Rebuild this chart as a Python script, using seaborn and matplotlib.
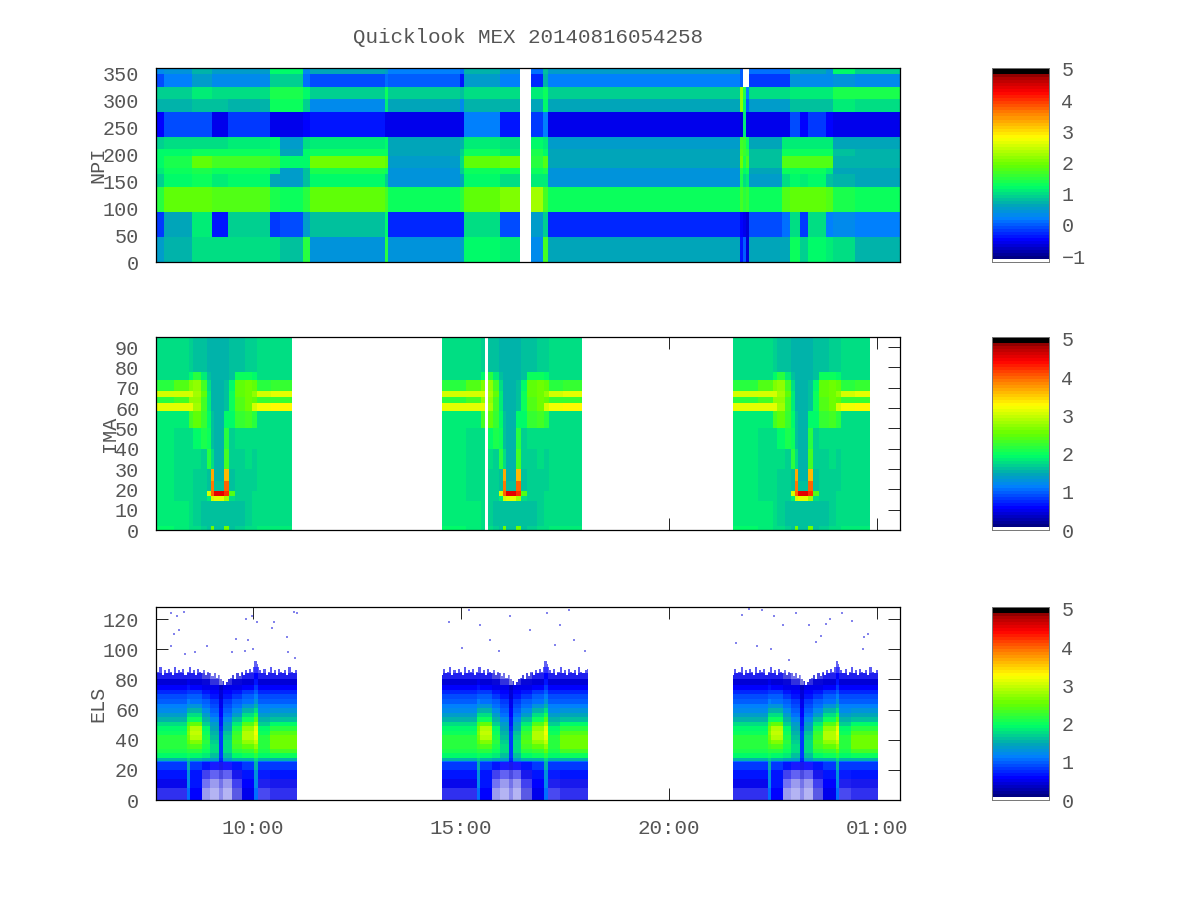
"""
plot.py
Quicklook MEX spectrograms (NPI, IMA, ELS) redrawn with seaborn heatmaps.
"""

import numpy as np
import matplotlib.pyplot as plt
from matplotlib.colors import LinearSegmentedColormap
import seaborn as sns

nan = np.nan

# ── Time axis: minutes after 07:40 ───────────────────────────────────────────
total_minutes = 1073
time_ticks = [140, 440, 740, 1040]
time_labels = ["10:00", "15:00", "20:00", "01:00"]

# ── NPI: one column of 13 band levels per time segment ───────────────────────
npi_band_rows = [1, 2, 2, 2, 4, 2, 1, 2, 1, 2, 4, 4, 4]
npi_seg_end = [12, 52, 81, 104, 164, 179, 212, 222, 330, 335, 438, 444, 496,
               525, 541, 558, 565, 842, 846, 851, 855, 903, 914, 929, 940,
               966, 976, 1008, 1073]
npi_columns = [
    [0.3, -0.1, 0.9, 0.7, -0.5, 0.9, 1.2, 1.2, 1.1, 0.9, 1.5, -0.2, 0.5],
    [0.4, 0.2, 0.9, 0.7, -0.1, 1.0, 1.2, 1.4, 1.3, 1.2, 1.9, 0.6, 0.7],
    [0.7, 0.5, 1.1, 0.8, -0.1, 1.0, 1.3, 1.9, 1.4, 1.3, 1.9, 1.1, 1.0],
    [0.5, 0.3, 1.0, 0.8, -0.55, 1.0, 1.3, 1.7, 1.3, 1.1, 1.8, -0.35, 1.0],
    [0.5, 0.3, 1.0, 0.7, -0.15, 1.1, 1.3, 1.7, 1.3, 1.2, 1.8, 0.9, 1.0],
    [1.2, 0.9, 1.4, 1.3, -0.6, 1.2, 1.3, 1.6, 1.1, 0.6, 1.4, -0.15, 1.0],
    [1.2, 0.9, 1.4, 1.3, -0.6, 0.5, 0.6, 1.2, 0.5, 0.5, 1.3, -0.1, 0.8],
    [0.3, 0.1, 1.2, 0.9, -0.45, 1.0, 1.2, 1.2, 0.8, 0.8, 1.5, 0.5, 1.5],
    [0.6, -0.05, 0.9, 0.3, -0.35, 1.1, 1.3, 2.0, 1.4, 1.2, 1.9, 0.8, 0.4],
    [0.5, 0.1, 1.3, 1.1, -0.55, 1.2, 1.3, 1.9, 1.3, 0.9, 1.7, 1.2, 1.5],
    [0.2, 0.0, 0.9, 0.6, -0.58, 0.6, 0.6, 0.5, 0.4, 0.4, 1.3, -0.25, 0.4],
    [0.1, -0.4, 0.8, 0.3, -0.55, 0.7, 0.9, 1.0, 0.9, 0.6, 1.5, -0.25, 0.5],
    [0.7, 0.5, 1.0, 0.7, 0.2, 1.1, 1.3, 1.9, 1.3, 1.2, 1.9, 1.0, 1.2],
    [0.4, 0.2, 1.0, 0.7, -0.35, 1.0, 1.1, 2.0, 1.3, 1.0, 2.1, -0.1, 1.1],
    [nan, nan, nan, nan, nan, nan, nan, nan, nan, nan, nan, nan, nan],
    [0.1, -0.25, 1.1, 0.6, -0.2, 1.2, 1.4, 1.5, 1.3, 1.1, 2.3, 0.5, 0.3],
    [0.8, 0.7, 1.3, 1.2, 0.2, 1.1, 1.2, 1.8, 1.4, 1.1, 1.7, 0.9, 1.7],
    [0.5, 0.2, 0.9, 0.6, -0.58, 0.5, 0.6, 0.6, 0.4, 0.4, 1.3, -0.22, 0.6],
    [0.0, 0.0, 2.2, 2.2, -0.7, 1.7, 1.8, 2.0, 1.5, 1.4, 1.7, -0.5, -0.4],
    [nan, nan, 1.4, 1.2, 1.1, 1.6, 1.6, 1.4, 1.2, 1.0, 1.5, -0.6, 0.0],
    [nan, nan, 0.2, 0.0, -0.55, 1.3, 1.5, 1.7, 1.3, 1.1, 1.6, -0.7, -0.7],
    [0.1, -0.2, 1.0, 0.5, -0.58, 0.6, 0.8, 0.8, 0.6, 0.5, 1.3, -0.1, 0.6],
    [0.1, -0.2, 1.0, 0.5, -0.55, 1.1, 1.3, 1.8, 1.3, 1.0, 1.8, 0.1, 0.6],
    [0.7, 0.4, 1.1, 0.8, -0.1, 1.1, 1.3, 1.8, 1.3, 1.2, 1.9, 1.0, 1.3],
    [0.6, 0.3, 1.1, 0.8, -0.5, 1.1, 1.3, 1.8, 1.3, 1.1, 1.9, -0.2, 0.9],
    [0.6, 0.3, 1.1, 0.8, -0.2, 1.1, 1.3, 1.8, 1.3, 1.2, 1.9, 1.0, 1.2],
    [0.4, 0.3, 1.1, 0.8, -0.45, 1.1, 1.3, 1.8, 1.1, 0.8, 1.8, 0.2, 1.1],
    [1.2, 0.4, 1.4, 1.1, -0.55, 0.6, 0.8, 0.7, 0.6, 0.7, 1.4, 0.3, 1.0],
    [0.9, 0.3, 1.4, 1.0, -0.55, 0.6, 0.7, 0.7, 0.6, 0.6, 1.3, 0.2, 0.7],
]

# ── IMA: one periapsis pass, rows top-down, columns in time order ────────────
ima_rows = [34, 8, 11, 6, 6, 8, 17, 20, 20, 12, 10, 5, 4, 25, 4]
ima_cols = [36, 22, 6, 11, 9, 5, 5, 14, 7, 9, 14, 11, 7, 20, 35]
ima_lead = 101
ima_passes = [(0, 196, 91), (412, 614, 512), (832, 1030, 933)]
ima_dropout = (474, 479)
ima_pass = [
    [1.8, 1.75, 1.7, 1.65, 1.6, 1.55, 1.55, 1.55, 1.55, 1.6, 1.65, 1.7, 1.72, 1.75, 1.75],
    [1.8, 1.8, 1.95, 2.15, 1.85, 1.6, 1.55, 1.55, 1.55, 1.65, 2.05, 2.05, 1.9, 1.75, 1.75],
    [2.15, 2.4, 2.65, 2.7, 2.35, 1.75, 1.55, 1.55, 1.6, 1.95, 2.45, 2.55, 2.5, 2.15, 2.25],
    [3.05, 3.05, 3.05, 2.8, 2.45, 1.85, 1.55, 1.55, 1.65, 2.05, 2.45, 2.6, 2.75, 3.05, 3.15],
    [2.2, 2.3, 2.75, 2.7, 2.35, 1.85, 1.55, 1.55, 1.65, 2.05, 2.4, 2.55, 2.5, 2.25, 2.25],
    [3.1, 3.1, 3.1, 2.8, 2.35, 1.85, 1.55, 1.55, 1.65, 2.05, 2.4, 2.6, 3.0, 3.2, 3.25],
    [1.85, 1.85, 2.35, 2.45, 2.25, 1.95, 1.6, 1.55, 1.9, 1.95, 2.25, 2.3, 2.15, 1.8, 1.8],
    [1.82, 1.8, 1.8, 1.95, 2.1, 2.05, 1.65, 1.55, 2.2, 1.7, 1.75, 1.75, 1.75, 1.75, 1.75],
    [1.82, 1.8, 1.75, 1.75, 1.72, 2.2, 1.8, 1.55, 2.3, 1.7, 1.72, 1.75, 1.72, 1.75, 1.75],
    [1.82, 1.8, 1.75, 1.72, 1.7, 1.65, 3.7, 1.55, 3.6, 1.65, 1.7, 1.72, 1.72, 1.75, 1.75],
    [1.82, 1.8, 1.75, 1.72, 1.7, 1.65, 3.9, 1.6, 4.0, 1.65, 1.7, 1.72, 1.72, 1.75, 1.75],
    [1.82, 1.8, 1.75, 1.72, 1.7, 3.0, 4.0, 4.5, 4.2, 2.4, 1.7, 1.72, 1.75, 1.75, 1.78],
    [1.82, 1.8, 1.75, 1.72, 1.7, 1.85, 3.0, 3.1, 2.8, 1.75, 1.7, 1.72, 1.75, 1.75, 1.78],
    [1.85, 1.82, 1.75, 1.72, 1.65, 1.6, 1.6, 1.6, 1.6, 1.6, 1.65, 1.72, 1.75, 1.78, 1.78],
    [1.9, 1.85, 1.8, 1.75, 1.7, 1.65, 2.6, 1.65, 2.6, 1.65, 1.7, 1.75, 1.8, 1.82, 1.82],
]

# ── ELS: one periapsis pass, rows top-down, columns in time order ────────────
els_rows = [36, 4, 4, 4, 4, 3, 3, 3, 3, 3, 3, 3, 3, 3, 3, 3, 3, 3, 3, 3, 3, 2, 1, 5, 6, 6, 8]
els_cols = [55, 4, 17, 12, 13, 6, 12, 15, 18, 5, 17, 51]
els_lead = 105
els_passes = [(0, 203, 95), (412, 623, 513), (832, 1041, 933)]
els_pass = [
    [nan, nan, nan, nan, nan, nan, nan, nan, nan, nan, nan, nan],
    [nan, nan, nan, nan, nan, nan, nan, nan, nan, 0.5, nan, nan],
    [0.5, 0.5, 0.5, 0.5, 0.5, 0.45, 0.5, 0.5, 0.5, 0.6, 0.5, 0.5],
    [0.5, 0.5, 0.5, 0.45, 0.45, 0.4, 0.45, 0.45, 0.5, 0.6, 0.5, 0.5],
    [0.45, 0.5, 0.45, 0.4, 0.4, 0.35, 0.4, 0.4, 0.45, 0.65, 0.45, 0.45],
    [0.6, 0.7, 0.6, 0.55, 0.5, 0.35, 0.5, 0.55, 0.6, 0.8, 0.6, 0.6],
    [0.75, 0.85, 0.8, 0.7, 0.6, 0.4, 0.6, 0.7, 0.8, 1.0, 0.75, 0.75],
    [0.9, 1.0, 0.95, 0.85, 0.7, 0.45, 0.7, 0.85, 0.95, 1.15, 0.9, 0.9],
    [1.0, 1.15, 1.1, 0.95, 0.8, 0.5, 0.8, 0.95, 1.1, 1.3, 1.0, 1.0],
    [1.15, 1.3, 1.3, 1.05, 0.9, 0.55, 0.9, 1.1, 1.3, 1.5, 1.15, 1.15],
    [1.25, 1.5, 1.5, 1.2, 1.0, 0.6, 1.0, 1.25, 1.5, 1.8, 1.25, 1.3],
    [1.4, 1.75, 1.75, 1.35, 1.1, 0.6, 1.1, 1.4, 1.75, 2.1, 1.4, 1.45],
    [1.55, 2.0, 2.05, 1.5, 1.2, 0.65, 1.2, 1.6, 2.05, 2.4, 1.55, 1.65],
    [1.75, 2.3, 2.45, 1.7, 1.35, 0.7, 1.35, 1.85, 2.4, 2.8, 1.7, 1.9],
    [1.9, 2.55, 2.85, 1.9, 1.45, 0.75, 1.45, 2.1, 2.75, 3.1, 1.9, 2.2],
    [2.05, 2.65, 2.95, 2.05, 1.55, 0.8, 1.6, 2.25, 2.9, 3.2, 2.05, 2.4],
    [2.15, 2.6, 2.85, 2.1, 1.65, 0.8, 1.7, 2.35, 2.85, 3.15, 2.15, 2.55],
    [2.2, 2.5, 2.65, 2.15, 1.7, 0.8, 1.75, 2.4, 2.7, 2.95, 2.2, 2.6],
    [2.2, 2.35, 2.4, 2.1, 1.75, 0.8, 1.75, 2.35, 2.45, 2.7, 2.2, 2.55],
    [2.1, 2.2, 2.2, 2.05, 1.75, 0.8, 1.75, 2.2, 2.25, 2.45, 2.1, 2.35],
    [1.95, 2.0, 1.95, 1.85, 1.65, 0.8, 1.65, 1.95, 2.0, 2.15, 1.95, 2.05],
    [1.5, 1.7, 1.5, 1.45, 1.4, 0.75, 1.4, 1.5, 1.5, 1.8, 1.5, 1.55],
    [1.05, 1.5, 1.05, 1.0, 0.95, 0.65, 0.95, 1.0, 1.05, 1.6, 1.05, 1.05],
    [0.8, 1.5, 0.8, 0.7, 0.6, 0.55, 0.6, 0.7, 0.8, 1.5, 0.8, 0.8],
    [0.65, 1.3, 0.7, 0.55, 0.5, 0.45, 0.5, 0.55, 0.7, 1.3, 0.65, 0.65],
    [0.55, 1.2, 0.7, 0.5, 0.45, 0.45, 0.45, 0.5, 0.6, 1.2, 0.55, 0.55],
    [0.5, 1.1, 0.6, 0.45, 0.45, 0.45, 0.45, 0.45, 0.5, 1.1, 0.5, 0.5],
]
# share of empty pixels per cell at the speckled edges of the band
els_sparse_top = [
    [0, 0, 0, 0, 0, 0, 0, 0, 0, 0, 0, 0],
    [0, 0, 0, 0, 0, 0, 0, 0, 0, 0.4, 0, 0],
    [0.35, 0.35, 0.35, 0.45, 0.55, 0.6, 0.55, 0.45, 0.35, 0.2, 0.35, 0.35],
    [0.15, 0.15, 0.15, 0.3, 0.45, 0.6, 0.45, 0.3, 0.15, 0, 0.15, 0.15],
    [0, 0, 0, 0.05, 0.2, 0.45, 0.2, 0.05, 0, 0, 0, 0],
]
els_sparse_bottom = [
    [0, 0, 0, 0, 0.1, 0.1, 0.1, 0, 0, 0, 0, 0],
    [0, 0, 0, 0.25, 0.4, 0.3, 0.4, 0.1, 0, 0, 0.05, 0],
    [0.05, 0, 0, 0.45, 0.6, 0.45, 0.6, 0.25, 0, 0, 0.15, 0.1],
    [0.2, 0, 0, 0.6, 0.7, 0.55, 0.7, 0.35, 0, 0, 0.3, 0.2],
]
# jagged top of the band, one energy per 3 minutes of the pass
els_edge = [86, 83, 87, 84, 85, 88, 83, 86, 84, 87, 85, 83, 88, 84, 86, 85, 87, 83, 85,
            88, 84, 86, 83, 87, 85, 84, 86, 83, 85, 84, 82, 84, 81, 83, 80, 79, 76, 78,
            80, 81, 83, 80, 84, 82, 85, 83, 86, 84, 87, 85, 92, 93, 90, 86, 84, 87, 83,
            85, 88, 84, 86, 83, 87, 85, 84, 86, 83, 88, 85, 84, 86, 87, 83, 85, 84]
# stray counts above the band
els_dot_min = [22, 31, 40, 26, 33, 42, 22, 56, 73, 116, 110, 128, 133, 130, 138,
               146, 167, 170, 189, 191, 199, 203, 200, 140,
               423, 452, 481, 510, 546, 564, 596, 603, 582, 539, 441, 495, 467,
               618, 575,
               855, 845, 874, 891, 923, 837, 887, 904, 942, 972, 966, 959, 952,
               989, 1004, 1021, 1020, 867, 913, 1027]
els_dot_energy = [124, 122, 125, 110, 113, 97, 102, 98, 102, 107, 98, 99, 106, 120,
                  122, 118, 114, 118, 108, 98, 125, 124, 94, 100,
                  118, 126, 106, 122, 128, 124, 126, 106, 116, 113, 101, 99, 116,
                  99, 103,
                  127, 123, 126, 122, 124, 104, 100, 116, 116, 120, 117, 109, 105,
                  124, 119, 108, 100, 102, 93, 110]

# ── Colours ──────────────────────────────────────────────────────────────────
rainbow = LinearSegmentedColormap.from_list("rainbow_mex", [
    (0.0, "#ffffff"), (0.012, "#ffffff"), (0.012, "#00007f"), (0.11, "#0000ff"),
    (0.22, "#007fff"), (0.29, "#00a8b4"), (0.385, "#00ff66"), (0.50, "#66ff00"),
    (0.645, "#ffff00"), (0.77, "#ff8000"), (0.88, "#ff0000"), (0.967, "#a00000"),
    (0.98, "#000000"), (1.0, "#000000"),
], N=64)
thinning = LinearSegmentedColormap.from_list(
    "thinning", [(1, 1, 1, 0), (1, 1, 1, 1)], N=32)

sns.set_theme(style="white")
plt.rcParams["font.family"] = ["Liberation Mono", "DejaVu Sans Mono"]
INK = "#555555"


def place(top, bottom, left=156, right=900):
    return [left / 1200, 1 - bottom / 900, (right - left) / 1200, (bottom - top) / 900]


def spread_pass(pass_rows, row_heights, col_widths, lead, passes):
    block = np.repeat(np.repeat(np.array(pass_rows, dtype=float), row_heights, axis=0),
                      col_widths, axis=1)
    full = np.full((block.shape[0], total_minutes), nan)
    for start, end, centre in passes:
        full[:, start:end] = block[:, start - centre + lead:end - centre + lead]
    return full


def dress(ax, y_ticks, to_row, ylabel, label_x, show_time=False):
    for spine in ax.spines.values():
        spine.set_visible(True)
        spine.set_color("black")
        spine.set_linewidth(0.9)
    ax.set_xticks(time_ticks)
    ax.set_xticklabels(time_labels if show_time else [], rotation=0)
    ax.set_yticks([to_row(v) for v in y_ticks])
    ax.set_yticklabels([str(v) for v in y_ticks], rotation=0)
    ax.tick_params(axis="both", direction="in", length=8.5, width=0.7, color="#222222",
                   top=True, right=True, bottom=True, left=True, labelcolor=INK)
    ax.tick_params(axis="y", pad=12, labelsize=14.5)
    ax.tick_params(axis="x", pad=14, labelsize=15)
    ax.set_xlabel("")
    ax.set_ylabel("")
    mid = ax.get_position()
    fig.text(label_x / 1200, mid.y0 + mid.height / 2, ylabel, rotation=90,
             ha="center", va="center", fontsize=14.5, color=INK)


def colour_bar(cax, ticks):
    cax.tick_params(length=0, labelsize=14.5, labelcolor=INK, pad=9)
    cax.set_yticks(ticks)
    for spine in cax.spines.values():
        spine.set_visible(True)
        spine.set_color("#777777")
        spine.set_linewidth(0.6)


fig = plt.figure(figsize=(12, 9), dpi=100, facecolor="white")

# ── Panel 1: NPI ─────────────────────────────────────────────────────────────
npi = np.array(npi_columns, dtype=float).T
npi = np.repeat(np.repeat(npi, npi_band_rows, axis=0),
                np.diff([0] + npi_seg_end), axis=1)
ax1 = fig.add_axes(place(68, 262))
cax1 = fig.add_axes(place(68, 262, 992, 1049))
sns.heatmap(npi, ax=ax1, cmap=rainbow, vmin=-1.19, vmax=5.03, cbar_ax=cax1,
            cbar_kws={"ticks": [-1, 0, 1, 2, 3, 4, 5]},
            xticklabels=False, yticklabels=False)
dress(ax1, [0, 50, 100, 150, 200, 250, 300, 350],
      lambda v: (360 - v) * npi.shape[0] / 360, "NPI", 98)
colour_bar(cax1, [-1, 0, 1, 2, 3, 4, 5])
ax1.set_title("Quicklook MEX 20140816054258", fontsize=15, color=INK, pad=18)

# ── Panel 2: IMA ─────────────────────────────────────────────────────────────
ima = spread_pass(ima_pass, ima_rows, ima_cols, ima_lead, ima_passes)
ima[:, ima_dropout[0]:ima_dropout[1]] = nan
ax2 = fig.add_axes(place(337, 530))
cax2 = fig.add_axes(place(337, 530, 992, 1049))
sns.heatmap(ima, ax=ax2, cmap=rainbow, vmin=0, vmax=5.05, cbar_ax=cax2,
            cbar_kws={"ticks": [0, 1, 2, 3, 4, 5]},
            xticklabels=False, yticklabels=False)
dress(ax2, list(range(0, 100, 10)), lambda v: (95 - v) * 2, "IMA", 110)
colour_bar(cax2, [0, 1, 2, 3, 4, 5])

# ── Panel 3: ELS ─────────────────────────────────────────────────────────────
els = spread_pass(els_pass, els_rows, els_cols, els_lead, els_passes)
sparse_rows = np.vstack([els_sparse_top, np.zeros((len(els_pass) - 9, 12)), els_sparse_bottom])
sparse = spread_pass(sparse_rows, els_rows, els_cols, els_lead, els_passes)
for start, end, centre in els_passes:
    for minute in range(start, end):
        top_row = 128 - els_edge[(minute - centre + els_lead) // 3]
        els[:top_row, minute] = nan
        sparse[:top_row, minute] = nan

ax3 = fig.add_axes(place(607, 800))
cax3 = fig.add_axes(place(607, 800, 992, 1049))
sns.heatmap(els, ax=ax3, cmap=rainbow, vmin=0, vmax=5.05, cbar_ax=cax3,
            cbar_kws={"ticks": [0, 1, 2, 3, 4, 5]},
            xticklabels=False, yticklabels=False)
sns.heatmap(sparse, ax=ax3, cmap=thinning, vmin=0, vmax=1, cbar=False,
            xticklabels=False, yticklabels=False)
sns.scatterplot(x=els_dot_min, y=[128 - e for e in els_dot_energy], ax=ax3,
                marker="s", s=2.5, color="#3030e0", alpha=0.6, linewidth=0, legend=False)
ax3.set_xlim(0, total_minutes)
ax3.set_ylim(128, 0)
dress(ax3, [0, 20, 40, 60, 80, 100, 120], lambda v: 128 - v, "ELS", 98, show_time=True)
colour_bar(cax3, [0, 1, 2, 3, 4, 5])

plt.savefig("out.png", dpi=100, facecolor="white")
plt.close()
